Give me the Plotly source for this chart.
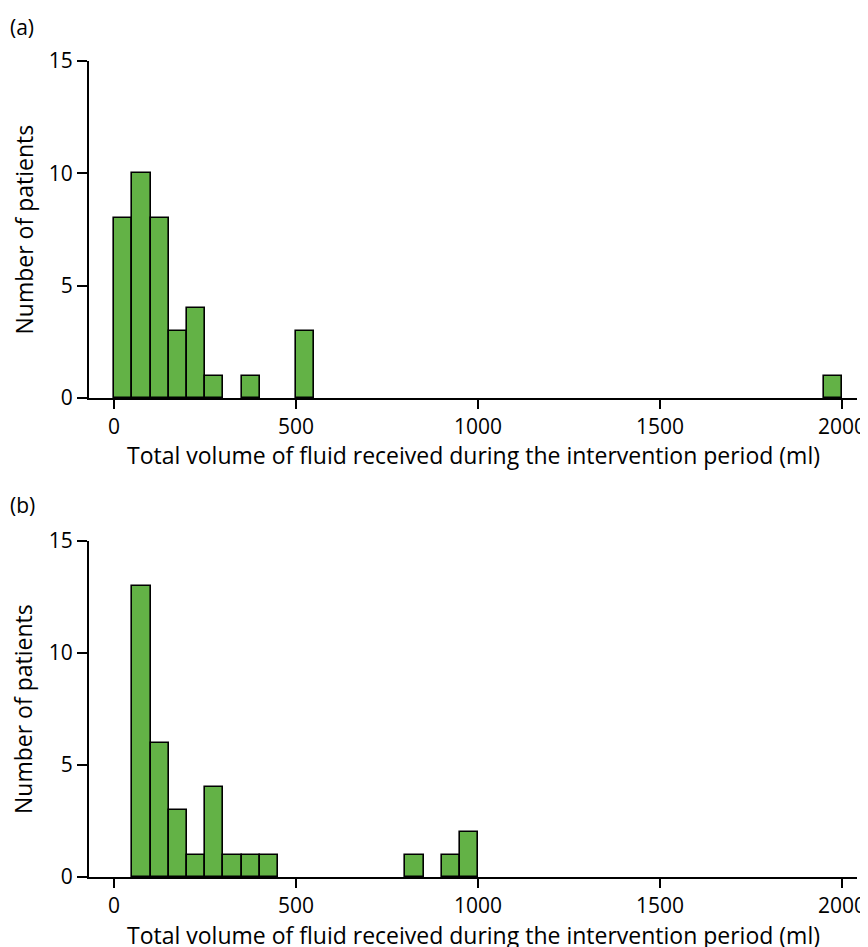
import plotly.graph_objects as go
from plotly.subplots import make_subplots

bin_width = 50
# Panel (a): left edge of bins (ml) and counts
bins_a = [0, 50, 100, 150, 200, 250, 350, 500, 1950]
counts_a = [8, 10, 8, 3, 4, 1, 1, 3, 1]
# Panel (b)
bins_b = [50, 100, 150, 200, 250, 300, 350, 400, 800, 900, 950]
counts_b = [13, 6, 3, 1, 4, 1, 1, 1, 1, 1, 2]

x_ticks = [0, 500, 1000, 1500, 2000]
y_ticks = [0, 5, 10, 15]
x_title = "Total volume of fluid received during the intervention period (ml)"
y_title = "Number of patients"
panel_labels = ["(a)", "(b)"]

FONT = "Open Sans"
TICK_SIZE = 21
TITLE_SIZE = 23
green = "#63b246"

OFF = 8  # page body margin offset
W, H = 868 - OFF, 947 - OFF
L, R = 89 - OFF, W - (857 - OFF)
top, bottom = 61 - OFF, H - (877 - OFF)
pw = W - L - R
ph = H - top - bottom

fig = make_subplots(rows=2, cols=1, vertical_spacing=0.1)
fig.add_trace(go.Bar(x=[b + bin_width / 2 for b in bins_a], y=counts_a, width=bin_width,
                     marker=dict(color=green, line=dict(color="black", width=1.6)),
                     showlegend=False), row=1, col=1)
fig.add_trace(go.Bar(x=[b + bin_width / 2 for b in bins_b], y=counts_b, width=bin_width,
                     marker=dict(color=green, line=dict(color="black", width=1.6)),
                     showlegend=False), row=2, col=1)


def py(pix):
    # reference pixel y -> paper coordinate
    return (H - bottom - (pix - OFF)) / ph


def px(pix):
    return (pix - OFF - L) / pw


dom_a = [py(398), 1.0]
dom_b = [0.0, py(541)]

axis_common = dict(showline=True, linecolor="black", linewidth=2, ticks="outside",
                   tickcolor="black", tickwidth=2, showgrid=False, zeroline=False,
                   automargin=False, ticklabeloverflow="allow",
                   tickfont=dict(family=FONT, size=TICK_SIZE, color="black"))
for i, dom in zip([1, 2], [dom_a, dom_b]):
    xa = "xaxis" if i == 1 else "xaxis2"
    ya = "yaxis" if i == 1 else "yaxis2"
    fig.layout[xa].update(range=[-69, 2041], tickvals=x_ticks, ticklen=9, **axis_common)
    fig.layout[ya].update(range=[0, 15], tickvals=y_ticks, ticklen=10, domain=dom, **axis_common)

tfont = dict(family=FONT, size=TITLE_SIZE, color="black")
lfont = dict(family=FONT, size=TICK_SIZE, color="black")
# x-axis titles
for yc in [455, 935]:
    fig.add_annotation(text=x_title, xref="paper", yref="paper", x=px(473), y=py(yc),
                       xanchor="center", yanchor="middle", showarrow=False, font=tfont)
# y-axis titles
for yc in [229.5, 709]:
    fig.add_annotation(text=y_title, xref="paper", yref="paper", x=px(23), y=py(yc),
                       xanchor="center", yanchor="middle", showarrow=False, textangle=-90, font=tfont)
# panel labels
for lab, yc in zip(panel_labels, [27, 505]):
    fig.add_annotation(text=lab, xref="paper", yref="paper", x=px(8), y=py(yc),
                       xanchor="left", yanchor="middle", showarrow=False, font=lfont)

fig.update_layout(width=W, height=H, margin=dict(l=L, r=R, t=top, b=bottom),
                  plot_bgcolor="white", paper_bgcolor="white", bargap=0,
                  font=dict(family=FONT, size=TICK_SIZE, color="black"))
fig.write_html("out.html")
